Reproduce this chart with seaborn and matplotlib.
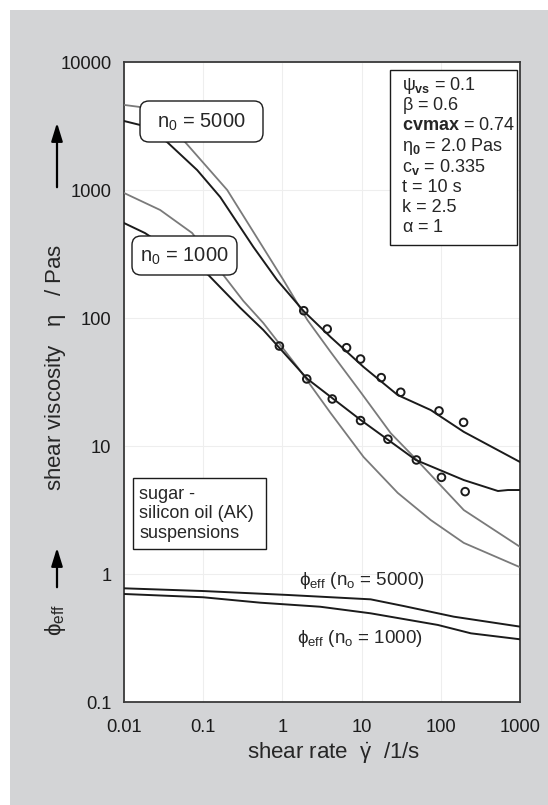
import numpy as np
import pandas as pd
import matplotlib
matplotlib.use("Agg")
import matplotlib.pyplot as plt
import seaborn as sns
from matplotlib.patches import Rectangle, FancyBboxPatch, FancyArrowPatch
from matplotlib.transforms import IdentityTransform
from matplotlib.ticker import FixedLocator, FixedFormatter, NullLocator

# ---------------- data ----------------
# model curves, n0 = 5000 (black)
eta5000_x = [0.01, 0.016, 0.035, 0.084, 0.164, 0.43, 0.857, 1.86, 4.06, 10.6, 28.6, 74.6, 195, 1000]
eta5000_y = [3460, 3220, 2370, 1430, 881, 359, 198, 113, 71, 41.4, 25, 19.1, 12.9, 7.5]
# model curves, n0 = 1000 (black)
eta1000_x = [0.01, 0.0184, 0.116, 0.294, 0.574, 2.07, 9.7, 48.3, 195, 527, 705, 1000]
eta1000_y = [552, 461, 217, 120, 80.6, 33.4, 16.0, 7.78, 5.42, 4.45, 4.53, 4.53]
# gray curves
gray5000_x = [0.01, 0.016, 0.059, 0.201, 1.03, 2.07, 4.06, 9.7, 23.3, 49.7, 195, 1000]
gray5000_y = [4620, 4450, 2370, 1000, 198, 96.4, 54.3, 26.4, 12.6, 7.78, 3.16, 1.63]
gray1000_x = [0.01, 0.0286, 0.0726, 0.179, 0.321, 0.574, 1.55, 4.06, 10.6, 28.6, 74.6, 195, 1000]
gray1000_y = [948, 698, 461, 217, 136, 91.4, 41.4, 18.1, 8.2, 4.30, 2.64, 1.75, 1.13]
# measured points
meas5000_x = [1.86, 3.68, 6.46, 9.7, 17.7, 31.2, 95, 194]
meas5000_y = [114, 82, 58.6, 47.8, 34.2, 26.3, 18.8, 15.3]
meas1000_x = [0.916, 2.03, 4.26, 9.7, 21.5, 49.2, 102, 203]
meas1000_y = [60.4, 33.4, 23.3, 15.8, 11.3, 7.78, 5.69, 4.40]
# effective volume fraction
phi5000_x = [0.01, 0.1, 1.16, 13, 34, 146, 1000]
phi5000_y = [0.773, 0.736, 0.686, 0.634, 0.562, 0.464, 0.388]
phi1000_x = [0.01, 0.1, 0.525, 3.0, 13, 91.6, 240, 1000]
phi1000_y = [0.698, 0.658, 0.597, 0.555, 0.493, 0.400, 0.344, 0.309]

xticks = [0.01, 0.1, 1, 10, 100, 1000]
xticklabels = ["0.01", "0.1", "1", "10", "100", "1000"]
yticks = [0.1, 1, 10, 100, 1000, 10000]
yticklabels = ["0.1", "1", "10", "100", "1000", "10000"]

params = [r"$\psi_{\mathbf{vs}}$ = 0.1", r"$\beta$ = 0.6", r"$\mathbf{cvmax}$ = 0.74",
          r"$\eta_{\mathbf{0}}$ = 2.0 Pas", r"c$_{\mathbf{v}}$ = 0.335", "t = 10 s",
          "k = 2.5", r"$\alpha$ = 1"]

# ---------------- style ----------------
sns.set_theme(style="white")
plt.rcParams["font.family"] = ["Liberation Sans", "DejaVu Sans"]
plt.rcParams["mathtext.fontset"] = "custom"
plt.rcParams["mathtext.rm"] = "Liberation Sans"
plt.rcParams["mathtext.it"] = "Liberation Sans"
plt.rcParams["mathtext.sf"] = "Liberation Sans"
plt.rcParams["mathtext.bf"] = "Liberation Sans:bold"

W, H = 548, 805
fig = plt.figure(figsize=(W / 100, H / 100), dpi=100)
fig.patch.set_facecolor("white")
fig.add_artist(Rectangle((10 / W, 0), 1 - 10 / W, 1 - 10 / H, transform=fig.transFigure,
                         facecolor="#d3d4d6", edgecolor="none", zorder=-10))

L, R, T, B = 124, 520, 62, 702
ax = fig.add_axes([L / W, 1 - B / H, (R - L) / W, (B - T) / H])
ax.set_facecolor("white")
ax.set_xscale("log")
ax.set_yscale("log")

BLACK = "#1b1b1b"
GRAY = "#7a7a7a"

def line(xs, ys, color, lw, z=3):
    df = pd.DataFrame({"x": xs, "y": ys})
    sns.lineplot(data=df, x="x", y="y", ax=ax, color=color, lw=lw, sort=False,
                 estimator=None, zorder=z)

line(gray5000_x, gray5000_y, GRAY, 1.3)
line(gray1000_x, gray1000_y, GRAY, 1.3)
line(eta5000_x, eta5000_y, BLACK, 1.4)
line(eta1000_x, eta1000_y, BLACK, 1.4)
line(phi5000_x, phi5000_y, BLACK, 1.4)
line(phi1000_x, phi1000_y, BLACK, 1.4)

for mx, my in [(meas5000_x, meas5000_y), (meas1000_x, meas1000_y)]:
    dfm = pd.DataFrame({"x": mx, "y": my})
    sns.scatterplot(data=dfm, x="x", y="y", ax=ax, s=30, marker="o",
                    facecolor="none", edgecolor=BLACK, linewidth=1.4, zorder=5)

ax.set_xlim(0.01, 1000)
ax.set_ylim(0.1, 10000)
ax.xaxis.set_major_locator(FixedLocator(xticks))
ax.xaxis.set_major_formatter(FixedFormatter(xticklabels))
ax.yaxis.set_major_locator(FixedLocator(yticks))
ax.yaxis.set_major_formatter(FixedFormatter(yticklabels))
ax.xaxis.set_minor_locator(NullLocator())
ax.yaxis.set_minor_locator(NullLocator())
ax.tick_params(axis="both", length=0, labelsize=13.2, colors="#1b1b1b")
ax.tick_params(axis="x", pad=12)
ax.tick_params(axis="y", pad=9)
ax.grid(True, color="#eeeeee", lw=0.8)
ax.set_xlabel("")
ax.set_ylabel("")
for s in ax.spines.values():
    s.set_color("#3a3a3a")
    s.set_linewidth(1.3)

def px(x, y):
    return (x / W, 1 - y / H)

def box(x0, y0, x1, y1, rounded=False, lw=1.0):
    style = "round,pad=0,rounding_size=9" if rounded else "square,pad=0"
    p = FancyBboxPatch((x0, H - y1), x1 - x0, y1 - y0, boxstyle=style,
                       transform=IdentityTransform(), facecolor="white",
                       edgecolor="#1b1b1b", lw=lw, zorder=6)
    fig.add_artist(p)

# axis labels
fig.text(*px(334, 753), r"shear rate  $\dot{\gamma}$  /1/s", ha="center", va="center", fontsize=16)
fig.text(*px(56, 367), r"shear viscosity   $\eta$   / Pas", ha="center", va="center",
         fontsize=16, rotation=90)
fig.text(*px(55, 620), r"$\phi_{\mathrm{eff}}$", ha="center", va="center", fontsize=16, rotation=90)
arrow = dict(arrowstyle="-|>,head_length=0.55,head_width=0.17", color="black", lw=1.6,
             mutation_scale=20)
fig.add_artist(FancyArrowPatch(px(57, 190), px(57, 120), transform=fig.transFigure, **arrow))
fig.add_artist(FancyArrowPatch(px(57, 590), px(57, 545), transform=fig.transFigure, **arrow))

# parameter box
box(390, 70, 517, 245)
for i, t in enumerate(params):
    fig.text(*px(402, 85 + i * 20.4), t, ha="left", va="center", fontsize=13, zorder=7)

# n0 boxes
box(140, 101, 263, 142, rounded=True)
fig.text(*px(201, 122), r"n$_0$ = 5000", ha="center", va="center", fontsize=14.5, zorder=7)
box(132, 236, 237, 275, rounded=True)
fig.text(*px(184, 256), r"n$_0$ = 1000", ha="center", va="center", fontsize=14.5, zorder=7)

# suspension box
box(133, 478, 266, 549)
for i, t in enumerate(["sugar -", "silicon oil (AK)", "suspensions"]):
    fig.text(*px(139, 494 + i * 19.5), t, ha="left", va="center", fontsize=13, zorder=7)

# phi labels
fig.text(*px(362, 580), r"$\phi_{\mathrm{eff}}$ (n$_{\mathrm{o}}$ = 5000)", ha="center", va="center", fontsize=13.5)
fig.text(*px(360, 638), r"$\phi_{\mathrm{eff}}$ (n$_{\mathrm{o}}$ = 1000)", ha="center", va="center", fontsize=13.5)

fig.savefig("out.png", dpi=100, facecolor=fig.get_facecolor())
